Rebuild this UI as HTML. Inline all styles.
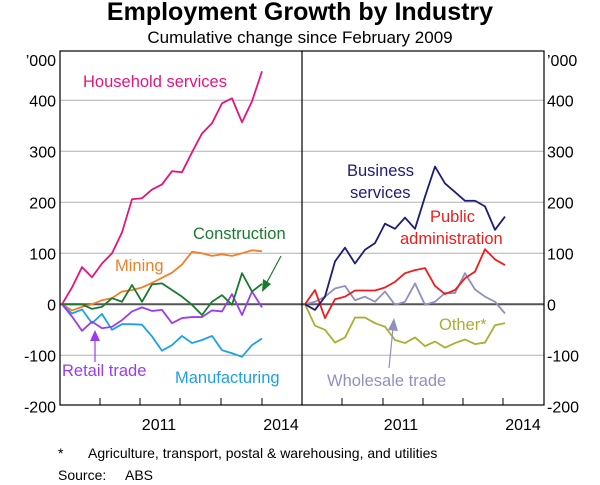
<!DOCTYPE html>
<html><head><meta charset="utf-8"><style>
body{margin:0;background:#fff;}
svg{display:block;font-family:"Liberation Sans",Arial,sans-serif;}
</style></head><body>
<svg id="chart" width="600" height="485" viewBox="0 0 600 485">
<text x="300" y="20" text-anchor="middle" font-size="25" font-weight="bold">Employment Growth by Industry</text>
<text x="300" y="43" text-anchor="middle" font-size="17">Cumulative change since February 2009</text>
<g id="grid"></g>
<g id="series"></g>
<rect x="60" y="51" width="484" height="354" fill="none" stroke="#000" stroke-width="1.2"/>
<line x1="302" y1="51" x2="302" y2="405" stroke="#000" stroke-width="1.2"/>
<g id="axes"></g>
<g font-size="16.5">
<text x="83" y="87" fill="#e6147d">Household services</text>
<text x="193" y="239" fill="#1a7a2e">Construction</text>
<text x="115" y="271" fill="#f07f2a">Mining</text>
<text x="62" y="376" fill="#9b3cf0">Retail trade</text>
<text x="175" y="383" fill="#1ea0e6">Manufacturing</text>
<text x="347" y="176" fill="#1c1c7a">Business</text>
<text x="350" y="198" fill="#1c1c7a">services</text>
<text x="430" y="222" fill="#f01c1c">Public</text>
<text x="400" y="244" fill="#f01c1c">administration</text>
<text x="439" y="330" fill="#a8b030">Other*</text>
<text x="327" y="386" fill="#9090c0">Wholesale trade</text>
</g>
<g>
<line x1="281" y1="256" x2="266" y2="284" stroke="#1a7a2e" stroke-width="1.2"/>
<polygon points="262,292 263,279 271,284" fill="#1a7a2e"/>
<line x1="95" y1="362" x2="95" y2="338" stroke="#9b3cf0" stroke-width="1.2"/>
<polygon points="95,330 90,341 100,341" fill="#9b3cf0"/>
<line x1="389" y1="368" x2="393" y2="328" stroke="#9090c0" stroke-width="1.2"/>
<polygon points="394,318 388,330 398,331" fill="#9090c0"/>
</g>
<text x="58" y="458" font-size="14">*</text>
<text x="88" y="458" font-size="14">Agriculture, transport, postal &amp; warehousing, and utilities</text>
<text x="58" y="480" font-size="14">Source:</text>
<text x="125" y="480" font-size="14">ABS</text>
</svg>
<script>
const yTicks=[-200,-100,0,100,200,300,400];
const yearLabels=['2011','2014'];
const household=[0,33,73,53,80,100,141,206,208,225,235,261,259,298,335,355,394,404,357,398,457];
const mining=[0,-12,-5,0,8,12,25,28,33,42,52,62,78,103,100,95,98,95,100,106,104];
const construction=[0,0,0,-9,-5,12,5,38,5,39,41,28,15,-1,-21,5,18,-1,61,25,40];
const retail=[0,-24,-52,-34,-47,-44,-31,-14,-6,-13,-11,-37,-27,-25,-25,-12,-14,20,-21,25,-6];
const manufacturing=[0,-18,-10,-37,-19,-50,-39,-39,-40,-63,-91,-80,-62,-76,-70,-62,-90,-96,-103,-80,-67];
const business=[0,-11,15,84,111,80,107,120,158,148,170,148,211,270,237,220,203,203,192,146,172];
const publicAdmin=[0,28,-27,10,15,27,27,27,33,44,61,67,71,36,20,28,51,64,108,88,77];
const wholesale=[0,5,15,31,36,8,15,5,25,-1,5,41,-1,5,22,22,61,29,15,5,-18];
const other=[0,-42,-50,-75,-65,-26,-26,-37,-44,-70,-76,-65,-82,-73,-85,-76,-69,-78,-75,-41,-37];
const NS='http://www.w3.org/2000/svg';
function y(v){return 304.3-v*0.51;}
function xL(i){return 62+i*10;}
function xR(i){return 305+i*10;}
function mk(tag,attrs,parent){const e=document.createElementNS(NS,tag);for(const k in attrs)e.setAttribute(k,attrs[k]);parent.appendChild(e);return e;}
const grid=document.getElementById('grid'),axes=document.getElementById('axes'),ser=document.getElementById('series');
yTicks.forEach(v=>{
  if(v===-200)return;
  const l=mk('line',{x1:60,x2:544,y1:y(v),y2:y(v),stroke:v===0?'#555':'#b0b0b0','stroke-width':v===0?2:1},grid);
  
  
});
yTicks.forEach(v=>{
  const a=mk('text',{x:56,y:y(v)+6,'text-anchor':'end','font-size':16},axes);a.textContent=v;
  
  
  const b=mk('text',{x:547,y:y(v)+6,'font-size':16},axes);b.textContent=v;
  
  
});
[['56','end'],['547','start']].forEach(p=>{const t=mk('text',{x:p[0],y:66,'text-anchor':p[1],'font-size':16},axes);t.textContent='\u2019000';
  
  });
[100,140,180,221,262,342,383,423,463,503].forEach(tx=>{const t=mk('line',{x1:tx,x2:tx,y1:405,y2:398,stroke:'#000','stroke-width':1},axes);
  
  });
[[159,0],[281,1],[401,0],[523,1]].forEach(p=>{const t=mk('text',{x:p[0],y:430,'text-anchor':'middle','font-size':16},axes);t.textContent=yearLabels[p[1]];
  
  });
function line(data,xf,color,name){
  const p=mk('polyline',{points:data.map((v,i)=>xf(i)+','+y(v)).join(' '),fill:'none',stroke:color,'stroke-width':1.8,'stroke-linejoin':'round'},ser);
  
  
}
line(mining,xL,'#f07f2a','mining-line');
line(manufacturing,xL,'#1ea0e6','manufacturing-line');
line(retail,xL,'#9b3cf0','retail-trade-line');
line(construction,xL,'#1a7a2e','construction-line');
line(household,xL,'#e6147d','household-services-line');
line(other,xR,'#a8b030','other-line');
line(wholesale,xR,'#9090c0','wholesale-trade-line');
line(publicAdmin,xR,'#f01c1c','public-administration-line');
line(business,xR,'#1c1c7a','business-services-line');
</script>
</body></html>
